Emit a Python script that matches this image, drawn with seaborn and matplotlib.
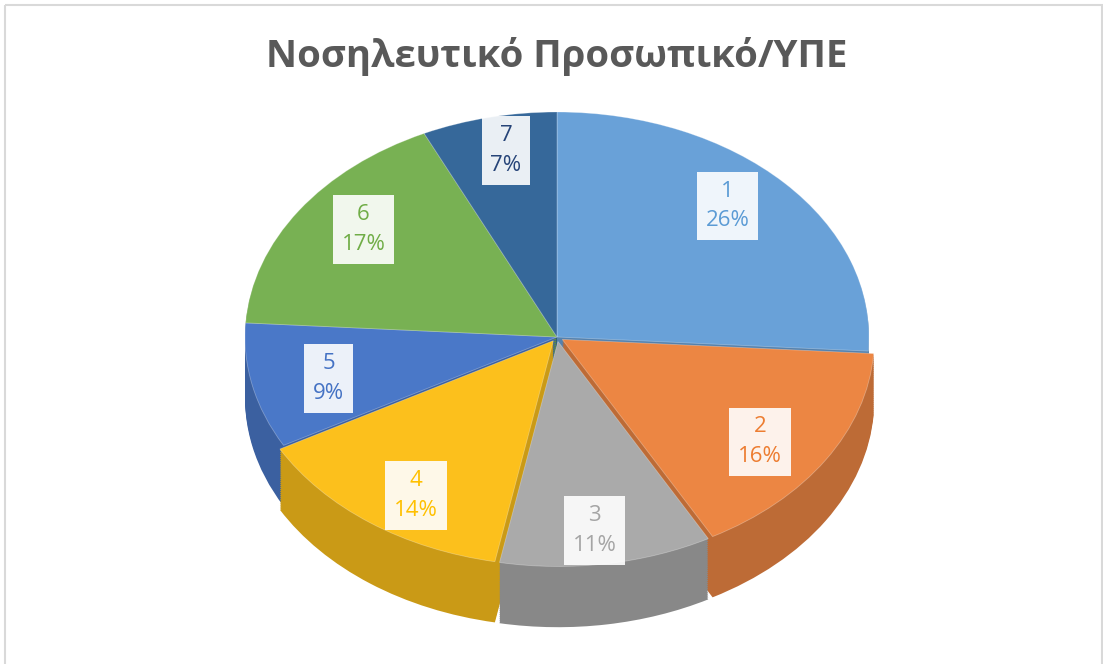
import numpy as np
import matplotlib
matplotlib.use('Agg')
import matplotlib.pyplot as plt
from matplotlib.patches import Rectangle
import seaborn as sns

categories = ['1', '2', '3', '4', '5', '6', '7']
shares = [26, 16, 11, 14, 9, 17, 7]
slice_colors = ['#69A1D8', '#EC8643', '#AAAAAA', '#FCC01C', '#4A78C8', '#78B153', '#36689A']
label_colors = ['#5B9BD5', '#ED7D31', '#A5A5A5', '#FFC000', '#4472C4', '#70AD47', '#264478']
title = 'Νοσηλευτικό Προσωπικό/ΥΠΕ'

sns.set_theme(style='white')
plt.rcParams['font.family'] = ['Open Sans', 'DejaVu Sans']

W, H = 1103, 664
CX, CY, RX, RY = 557, 337, 312, 225
explode = [0, 0.02, 0.02, 0.02, 0, 0, 0]

fig = plt.figure(figsize=(W / 100, H / 100), dpi=100)
fig.patch.set_facecolor('white')

# frame + title in pixel coords
bg = fig.add_axes([0, 0, 1, 1])
bg.set_xlim(0, W)
bg.set_ylim(H, 0)
bg.axis('off')
bg.add_patch(Rectangle((5, 5), W - 6.5, H + 10, fill=False, edgecolor='#D9D9D9', linewidth=1.5))
bg.text(CX, 56, title, ha='center', va='center', fontsize=27.5, fontweight='bold', color='#595959')

# pie drawn in ellipse units (x in RX, y in RY)
ax = fig.add_axes([0, 0, 1, 1])
ax.patch.set_alpha(0)
pal = sns.color_palette(slice_colors)
dark = [tuple(c * 0.8 for c in col) for col in pal]

for k in np.linspace(0.27, 0.005, 30):
    ax.pie(shares, colors=dark, startangle=90, counterclock=False, explode=explode,
           center=(0, -k), radius=1, wedgeprops=dict(linewidth=0))
wedges, _ = ax.pie(shares, colors=pal, startangle=90, counterclock=False, explode=explode,
                   center=(0, 0), radius=1,
                   wedgeprops=dict(linewidth=0.6, edgecolor=(1, 1, 1, 0.3)))

ax.set_aspect('auto')
ax.set_xlim(-CX / RX, (W - CX) / RX)
ax.set_ylim((CY - H) / RY, CY / RY)
ax.axis('off')

for w, cat, val, col in zip(wedges, categories, shares, sns.color_palette(label_colors)):
    mid = np.deg2rad((w.theta1 + w.theta2) / 2)
    cx, cy = w.center
    x = cx + 0.75 * np.cos(mid)
    y = cy + 0.85 * np.sin(mid)
    ax.text(x, y, f'{cat}\n{val}%', ha='center', va='center', fontsize=16, color=col,
            linespacing=1.55,
            bbox=dict(boxstyle='square,pad=0.4', facecolor='white', edgecolor='none', alpha=0.9))

fig.savefig('out.png', dpi=100, facecolor='white')
